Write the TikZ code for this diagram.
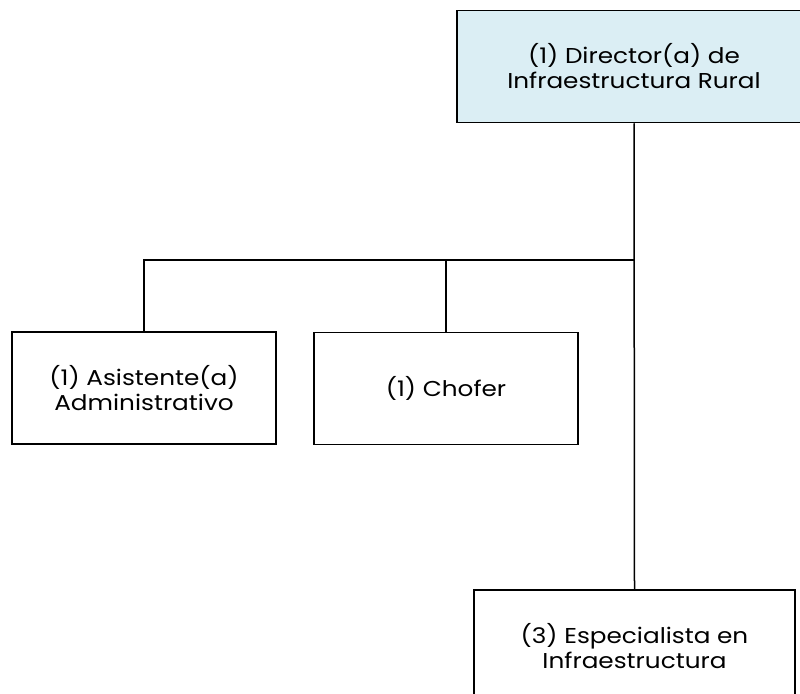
\documentclass[tikz,border=0pt]{standalone}
\usepackage{fontspec}
\setmainfont{Poppins}[FakeStretch=1.15]
\usetikzlibrary{calc}
\definecolor{dirblue}{RGB}{219,238,244}
\tikzset{
  unit/.style={draw=black, line width=1.5pt, minimum height=112,
    align=center, font=\fontsize{21.5}{25}\selectfont}
}

\begin{document}
\begin{tikzpicture}[x=1pt,y=-1pt]
    \clip (0,0) rectangle (800,693);
    \useasboundingbox (0,0) rectangle (800,693);
    \begin{scope}[line width=1.5pt]

         \node [unit, fill=dirblue, minimum width=354] (dir) at (634,66.5)
           {(1) Director(a) de\\Infraestructura Rural};
         \node [unit, minimum width=264] (asis) at (144,388)
           {(1) Asistente(a)\\Administrativo};
         \node [unit, minimum width=264] (chof) at (446,388.5) {(1) Chofer};
         \node [unit, minimum width=321] (esp) at (634.5,646)
           {(3) Especialista en\\Infraestructura};

         % bus line under the director
         \coordinate (bus) at (634,260);
         \draw (dir.south) -- (esp.north);
         \draw (bus) -| (asis.north);
         \draw (chof.north) -- (chof.north |- bus);

    \end{scope}
\end{tikzpicture}
\end{document}
